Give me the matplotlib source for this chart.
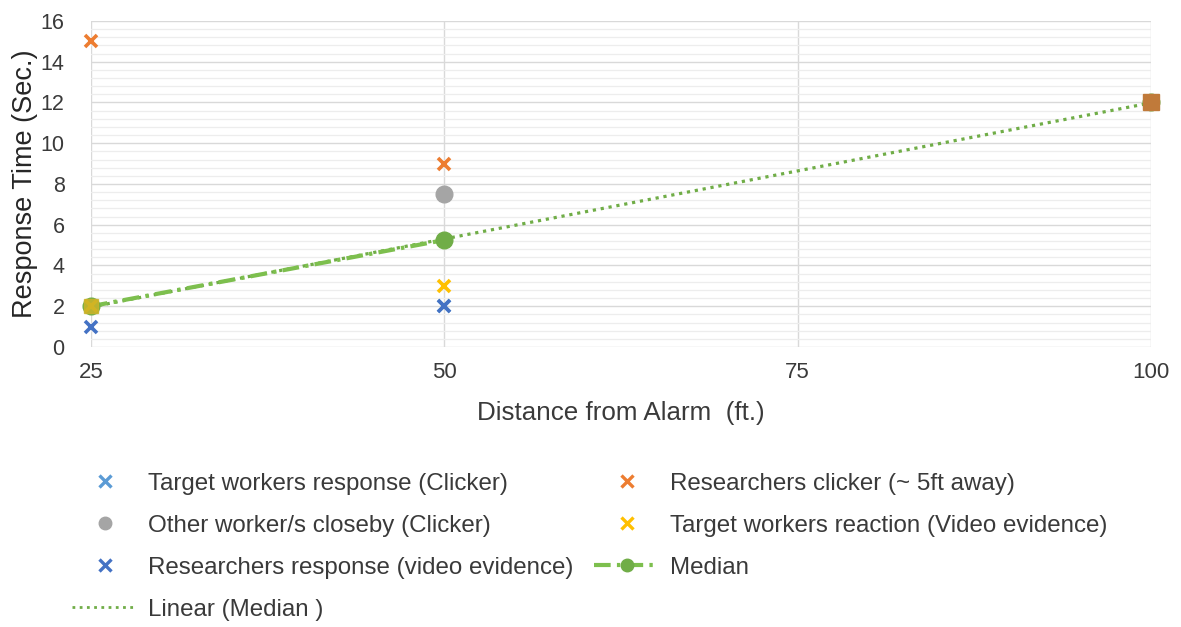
import numpy as np
import matplotlib
matplotlib.use("Agg")
import matplotlib.pyplot as plt
from matplotlib.lines import Line2D

plt.rcParams['font.family'] = ['Liberation Sans', 'DejaVu Sans']

# Distances (ft.) and response times (sec.)
target_clicker_x = [25, 50]
target_clicker_y = [2, 2]
researcher_clicker_x = [25, 50, 100]
researcher_clicker_y = [15, 9, 12]
other_worker_x = [50]
other_worker_y = [7.5]
target_video_x = [25, 50]
target_video_y = [2, 3]
researcher_video_x = [25, 50]
researcher_video_y = [1, 2]
median_x = [25, 50, 100]
median_y = [2, 5.25, 12]

x_ticks = [25, 50, 75, 100]
y_ticks = [0, 2, 4, 6, 8, 10, 12, 14, 16]

C_LBLUE = '#5B9BD5'
C_ORANGE = '#ED7D31'
C_GRAY = '#A5A5A5'
C_YELLOW = '#FFC000'
C_BLUE = '#4472C4'
C_GREEN = '#70AD47'
C_TEXT = '#3A3A3A'

fig = plt.figure(figsize=(11.81, 6.27), dpi=100)
ax = fig.add_axes([0.077, 0.4466, 0.8976, 0.5199])

ax.set_xlim(25, 100)
ax.set_ylim(0, 16)
ax.set_xticks(x_ticks)
ax.set_yticks(y_ticks)
ax.set_yticks(np.arange(0, 16.01, 0.4), minor=True)
ax.grid(True, which='major', color='#D9D9D9', lw=1.0)
ax.grid(True, which='minor', axis='y', color='#EDEDED', lw=0.9)
ax.set_axisbelow(True)
for s in ax.spines.values():
    s.set_visible(False)
ax.tick_params(which='both', length=0, colors=C_TEXT)
ax.tick_params(axis='x', pad=11, labelsize=16)
ax.tick_params(axis='y', pad=19, labelsize=15.5)
ax.set_xlabel('Distance from Alarm  (ft.)', fontsize=18.7, color=C_TEXT, va='center')
ax.xaxis.set_label_coords(0.5, -0.202)
ax.set_ylabel('Response Time (Sec.)', fontsize=19.5, color='#262626', va='center')
ax.yaxis.set_label_coords(-0.0623, 0.5)

# Linear trendline of the median values
coef = np.polyfit(median_x, median_y, 1)
tx = np.array([25, 100])
ax.plot(tx, np.polyval(coef, tx), ls=(0, (1, 1.5)), color=C_GREEN, lw=2.3, zorder=2, clip_on=False)

# Median series: connected segment between the first two points
ax.plot(median_x[:2], median_y[:2], color='#7DBF4E', lw=3, ls=(0, (4, 1.5, 0.8, 1.5)), zorder=3, clip_on=False)
ax.plot(median_x, median_y, ls='none', marker='o', ms=12, color=C_GREEN, zorder=4, clip_on=False)

xkw = dict(ls='none', marker='x', ms=9, mew=2.6, zorder=5, clip_on=False)
ax.plot(target_clicker_x, target_clicker_y, color=C_LBLUE, **xkw)
ax.plot(researcher_clicker_x[:2], researcher_clicker_y[:2], color=C_ORANGE, **xkw)
ax.plot(researcher_clicker_x[2:], researcher_clicker_y[2:], ls='none', marker='s', ms=11,
        color='#C07A3A', zorder=6, clip_on=False)
ax.plot(other_worker_x, other_worker_y, ls='none', marker='o', ms=12, color=C_GRAY, zorder=5)
ax.plot(target_video_x, target_video_y, color=C_YELLOW, **xkw)
ax.plot(researcher_video_x, researcher_video_y, color=C_BLUE, **xkw)
ax.plot([25], [2], ls='none', marker='s', ms=10, color='#C9B32A', alpha=0.85, zorder=6, clip_on=False)

handles = [
    Line2D([], [], ls='none', marker='x', ms=8, mew=2.4, color=C_LBLUE),
    Line2D([], [], ls='none', marker='o', ms=9, color=C_GRAY),
    Line2D([], [], ls='none', marker='x', ms=8, mew=2.4, color=C_BLUE),
    Line2D([], [], ls=(0, (1, 1.6)), lw=2.0, color=C_GREEN),
    Line2D([], [], ls='none', marker='x', ms=8, mew=2.4, color=C_ORANGE),
    Line2D([], [], ls='none', marker='x', ms=8, mew=2.4, color=C_YELLOW),
    Line2D([], [], ls=(0, (4, 1.5, 0.8, 1.5)), lw=3, marker='o', ms=9, color='#7DBF4E',
           mfc=C_GREEN, mec=C_GREEN),
]
labels = [
    'Target workers response (Clicker)',
    'Other worker/s closeby (Clicker)',
    'Researchers response (video evidence)',
    'Linear (Median )',
    'Researchers clicker (~ 5ft away)',
    'Target workers reaction (Video evidence)',
    'Median',
]
fig.legend(handles, labels, ncol=2, loc='upper left', bbox_to_anchor=(0.061, 0.246),
           frameon=False, fontsize=17.4, handlelength=2.69, handletextpad=0.45,
           columnspacing=0.87, labelspacing=0.83, labelcolor=C_TEXT,
           borderaxespad=0, borderpad=0)

fig.savefig('out.png', dpi=100)
